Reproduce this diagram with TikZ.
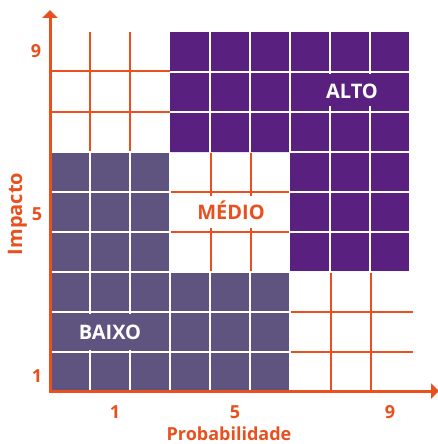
\documentclass[tikz,border=0pt]{standalone}
\usepackage{fontspec}
\setmainfont{Open Sans}
\usetikzlibrary{arrows.meta}
\definecolor{org}{HTML}{E9501E}
\definecolor{alto}{HTML}{5A2080}
\definecolor{baixo}{HTML}{5F5380}
\tikzset{
  axisline/.style={draw=org,line width=3pt,-{Triangle[length=8pt,width=15pt]}},
  ogrid/.style={draw=org,line width=2.4pt},
  wgrid/.style={draw=white,line width=2pt},
  lbl/.style={font=\bfseries\fontsize{18}{18}\selectfont,text=org,inner sep=0pt,anchor=base},
  tick/.style={font=\bfseries\fontsize{18}{18}\selectfont,text=org,inner sep=0pt,anchor=base},
  zone/.style={font=\bfseries\fontsize{20}{20}\selectfont,inner sep=0pt,anchor=base}
}
\begin{document}
\begin{tikzpicture}[x=1pt,y=-1pt]
\useasboundingbox (0,0) rectangle (437,444);
% ALTO region
\fill[alto] (170,32) -- (410,32) -- (410,272) -- (290,272) -- (290,152) -- (170,152) -- cycle;
\foreach \x in {210,250,290} \draw[wgrid] (\x,32) -- (\x,152);
\foreach \x in {330,370} \draw[wgrid] (\x,32) -- (\x,272);
\foreach \y in {72,112} \draw[wgrid] (170,\y) -- (410,\y);
\foreach \y in {152,192,232} \draw[wgrid] (290,\y) -- (410,\y);
\draw[wgrid] (170,31) -- (410,31) -- (410,272) -- (290,272);
% BAIXO region
\fill[baixo] (50,152) -- (170,152) -- (170,272) -- (290,272) -- (290,392) -- (50,392) -- cycle;
\foreach \x in {90,130} \draw[wgrid] (\x,152) -- (\x,392);
\foreach \x in {170,210,250} \draw[wgrid] (\x,272) -- (\x,392);
\foreach \y in {192,232,272} \draw[wgrid] (50,\y) -- (170,\y);
\foreach \y in {312,352} \draw[wgrid] (50,\y) -- (290,\y);
\draw[wgrid] (50,152) -- (170,152);
\draw[wgrid] (170,272) -- (290,272);
\draw[wgrid] (170,152) -- (170,272);
\draw[wgrid] (290,272) -- (290,392);
% orange grids in white zones
\foreach \x in {90,130} \draw[ogrid] (\x,32) -- (\x,151);
\foreach \y in {71,112} \draw[ogrid] (50,\y) -- (170,\y);
\foreach \x in {211,251} \draw[ogrid] (\x,153) -- (\x,271);
\foreach \y in {192,232} \draw[ogrid] (171,\y) -- (289,\y);
\foreach \x in {331,371} \draw[ogrid] (\x,273) -- (\x,391);
\foreach \y in {312,352} \draw[ogrid] (291,\y) -- (413,\y);
% label backgrounds
\fill[alto] (320,74) rectangle (385,106);
\fill[white] (190,196) rectangle (272,228);
\fill[baixo] (72,314) rectangle (148,350);
% zone labels
\node[zone,text=white] (alto) at (352,98) {ALTO};
\node[zone,text=org] (medio) at (231,219) {MÉDIO};
\node[zone,text=white] (baixo) at (110,339) {BAIXO};
% axes
\coordinate (o) at (50,391);
\coordinate (xe) at (439,391);
\coordinate (ye) at (50,10);
\draw[axisline] (48.5,391) -- (xe);
\draw[axisline] (o) -- (ye);
% ticks
\node[tick] (y9) at (36,58) {9};
\node[tick] (y5) at (37,220) {5};
\node[tick] (y1) at (37,382) {1};
\node[tick] (x1) at (115,418) {1};
\node[tick] (x5) at (235,418) {5};
\node[tick] (x9) at (390,418) {9};
\node[lbl] (xl) at (229,440.5) {Probabilidade};
\node[lbl,font=\bfseries\fontsize{20}{20}\selectfont,rotate=90] (yl) at (22,214) {Impacto};
\end{tikzpicture}
\end{document}
